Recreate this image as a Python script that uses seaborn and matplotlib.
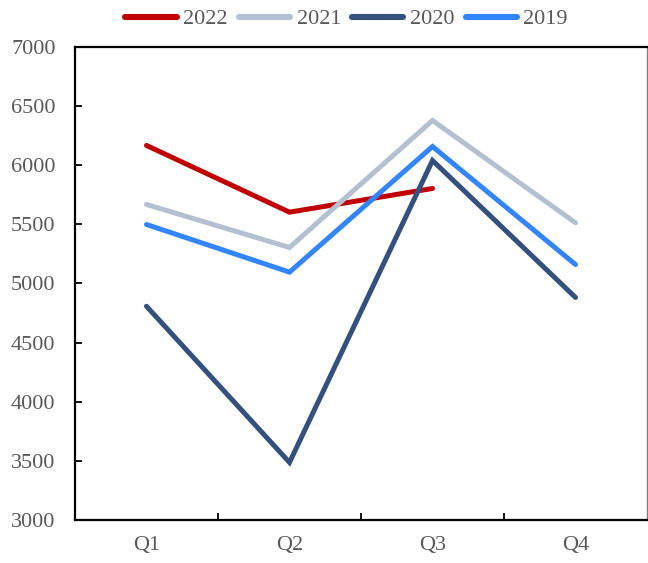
import matplotlib
matplotlib.use("Agg")
import matplotlib.pyplot as plt
import seaborn as sns
import pandas as pd
import numpy as np

# Quarterly values per year
quarters = ["Q1", "Q2", "Q3", "Q4"]
years = ["2022", "2021", "2020", "2019"]
v2022 = [6165, 5602, 5802, np.nan]
v2021 = [5667, 5304, 6376, 5512]
v2020 = [4808, 3490, 6038, 4882]
v2019 = [5498, 5096, 6156, 5160]
colors = ["#C00000", "#B4BFCF", "#34507D", "#3385FF"]
y_ticks = [3000, 3500, 4000, 4500, 5000, 5500, 6000, 6500, 7000]

series = {"2022": v2022, "2021": v2021, "2020": v2020, "2019": v2019}
rows = []
for yr in years:
    for i, q in enumerate(quarters):
        val = series[yr][i]
        if not np.isnan(val):
            rows.append({"pos": i, "quarter": q, "year": yr, "value": val})
df = pd.DataFrame(rows)

sns.set_theme(style="white")
plt.rcParams["font.family"] = ["Liberation Serif", "DejaVu Serif"]

fig = plt.figure(figsize=(6.48, 5.63), dpi=100)
ax = fig.add_axes([0.1157, 0.0755, 0.8828, 0.8419])

sns.lineplot(data=df, x="pos", y="value", hue="year", hue_order=years,
             palette=colors, linewidth=3.6, ax=ax, legend=True, sort=False,
             estimator=None)
for line in ax.get_lines():
    line.set_solid_capstyle("round")
    line.set_solid_joinstyle("miter")

ax.set_xlim(-0.5, 3.5)
ax.set_ylim(3000, 7000)
ax.set_xlabel("")
ax.set_ylabel("")

text_color = "#595959"
font_size = 16
ax.set_xticks(range(4))
ax.set_xticklabels(quarters)
ax.set_xticks([0.5, 1.5, 2.5], minor=True)
ax.tick_params(axis="x", which="major", length=0, pad=11, labelsize=font_size,
               labelcolor=text_color)
ax.tick_params(axis="x", which="minor", direction="in", length=5, width=1.3,
               color="black", bottom=True)
ax.set_yticks(y_ticks)
ax.tick_params(axis="y", which="major", direction="in", length=5, width=1.3,
               color="black", left=True, pad=14, labelsize=font_size,
               labelcolor=text_color)

for side in ["left", "bottom", "top"]:
    ax.spines[side].set_color("black")
    ax.spines[side].set_linewidth(1.6)
ax.spines["right"].set_color("#808080")
ax.spines["right"].set_linewidth(1.0)
for side in ax.spines:
    ax.spines[side].set_visible(True)

handles, labels = ax.get_legend_handles_labels()
ax.legend_.remove()
for h in handles:
    h.set_linewidth(4.4)
    h.set_solid_capstyle("round")
leg = fig.legend(handles, labels, loc="center", bbox_to_anchor=(0.535, 0.966),
                 ncol=4, frameon=False, fontsize=font_size, handlelength=2.3,
                 handletextpad=0.3, columnspacing=0.5)
for t in leg.get_texts():
    t.set_color(text_color)

fig.savefig("out.png", dpi=100)
